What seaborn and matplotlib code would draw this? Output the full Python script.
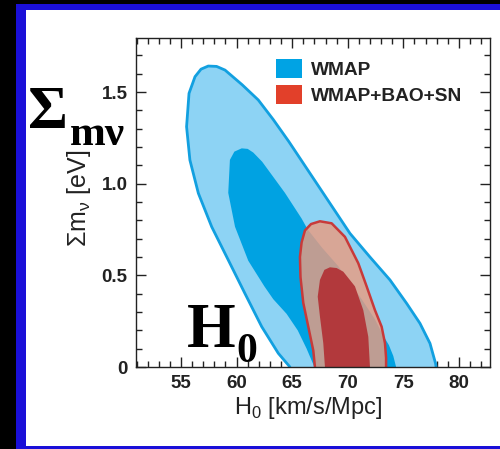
import matplotlib
matplotlib.use("Agg")
import matplotlib.pyplot as plt
from matplotlib.patches import Rectangle, Patch
from matplotlib.ticker import MultipleLocator
import seaborn as sns

# 68% / 95% confidence contours in the (H0, sum of neutrino masses) plane
wmap95_h0 = [64.8, 63.75, 62.26, 60.76, 59.25, 57.76, 56.56, 55.8, 55.5, 55.72, 56.26,
             56.8, 57.45, 58.2, 58.96, 60.5, 61.95, 63.3, 64.7, 66.6, 68.4, 70.2, 72.0,
             73.8, 75.3, 76.5, 77.4, 77.9, 77.95]
wmap95_mnu = [0.0, 0.075, 0.22, 0.40, 0.584, 0.765, 0.948, 1.129, 1.311, 1.493, 1.584,
              1.625, 1.642, 1.64, 1.62, 1.54, 1.457, 1.35, 1.23, 1.057, 0.893, 0.729,
              0.60, 0.475, 0.347, 0.238, 0.129, 0.02, 0.0]

wmap68_h0 = [67.0, 66.3, 65.5, 64.5, 63.3, 62.5, 61.05, 59.86, 59.25, 59.4, 59.8, 60.46,
             61.0, 61.5, 62.3, 64.35, 65.85, 66.4, 67.7, 69.15, 70.3, 71.25, 72.45,
             73.2, 73.7, 74.1, 74.35]
wmap68_mnu = [0.0, 0.10, 0.20, 0.29, 0.37, 0.44, 0.58, 0.765, 0.95, 1.13, 1.175, 1.193,
              1.19, 1.17, 1.12, 0.95, 0.81, 0.75, 0.65, 0.55, 0.45, 0.37, 0.26,
              0.17, 0.12, 0.06, 0.0]

comb95_h0 = [67.05, 66.9, 66.45, 66.0, 65.75, 65.7, 65.85, 66.15, 66.7, 67.5, 68.55,
             69.75, 70.95, 71.7, 72.45, 73.05, 73.35, 73.45, 73.45]
comb95_mnu = [0.0, 0.09, 0.22, 0.35, 0.49, 0.60, 0.68, 0.745, 0.78, 0.795, 0.784,
              0.71, 0.566, 0.44, 0.31, 0.22, 0.13, 0.05, 0.0]

comb68_h0 = [67.95, 67.8, 67.5, 67.3, 67.5, 67.9, 68.4, 69.0, 69.6, 70.65, 71.4,
             71.85, 72.0]
comb68_mnu = [0.0, 0.13, 0.275, 0.384, 0.475, 0.53, 0.544, 0.54, 0.52, 0.44, 0.31,
              0.165, 0.0]

legend_labels = ["WMAP", "WMAP+BAO+SN"]
xticks = [55, 60, 65, 70, 75, 80]
yticks = [0, 0.5, 1.0, 1.5]
ytick_labels = ["0", "0.5", "1.0", "1.5"]

sns.set_theme(style="ticks")
plt.rcParams["font.family"] = ["Liberation Sans", "DejaVu Sans"]
plt.rcParams["mathtext.fontset"] = "custom"
plt.rcParams["mathtext.rm"] = "Liberation Sans"

W, H = 500, 449
fig = plt.figure(figsize=(W / 100, H / 100), dpi=100, facecolor="black")

def fx(px):
    return px / W

def fy(py):
    return 1 - py / H

# slide frame
fig.patches.append(Rectangle((fx(16), 0), 1 - fx(16), fy(4), transform=fig.transFigure,
                             facecolor="#1A0FD8", edgecolor="none", zorder=-10))
fig.patches.append(Rectangle((fx(26), fy(446)), 1 - fx(26), fy(10) - fy(446),
                             transform=fig.transFigure, facecolor="white",
                             edgecolor="none", zorder=-9))

ax = fig.add_axes([fx(136), fy(367), fx(490) - fx(136), fy(38) - fy(367)])
ax.set_zorder(1)
ax.set_facecolor("white")

light_blue = "#8DD3F4"
mid_blue = "#00A2E2"
edge_blue = "#12A0E0"
salmon = "#E99C82"
dark_red = "#B2393C"
edge_red = "#C83A3A"

ax.fill(wmap95_h0, wmap95_mnu, color=light_blue, lw=0, zorder=1)
sns.lineplot(x=wmap95_h0, y=wmap95_mnu, sort=False, estimator=None, ax=ax,
             color=edge_blue, lw=2.0, zorder=2)
ax.fill(wmap68_h0, wmap68_mnu, color=mid_blue, lw=0, zorder=3)
ax.fill(comb95_h0, comb95_mnu, color=salmon, alpha=0.82, lw=0, zorder=4)
sns.lineplot(x=comb95_h0, y=comb95_mnu, sort=False, estimator=None, ax=ax,
             color=edge_red, lw=1.8, zorder=5)
ax.fill(comb68_h0, comb68_mnu, color=dark_red, lw=0, zorder=6)

ax.set_xlim(50.95, 82.8)
ax.set_ylim(0, 1.795)
ax.set_xticks(xticks)
ax.set_yticks(yticks)
ax.set_yticklabels(ytick_labels)
ax.xaxis.set_minor_locator(MultipleLocator(1))
ax.yaxis.set_minor_locator(MultipleLocator(0.1))
ax.tick_params(which="both", direction="in", top=True, right=True, color="#222222",
               width=1.0)
ax.tick_params(which="major", length=7, labelsize=13.5, pad=6)
ax.tick_params(which="minor", length=4)
for lab in ax.get_xticklabels() + ax.get_yticklabels():
    lab.set_fontweight("bold")
    lab.set_color("#222222")
for s in ax.spines.values():
    s.set_color("#222222")
    s.set_linewidth(1.0)
    s.set_zorder(10)

ax.set_xlabel(r"H$_{0}$ [km/s/Mpc]", fontsize=17, color="#222222")
ax.xaxis.set_label_coords(0.486, -0.085)
ax.set_ylabel(r"Σm$_{\mathregular{ν}}$ [eV]", fontsize=18, color="#222222")
ax.yaxis.set_label_coords(-0.122, 0.514)

handles = [Patch(facecolor="#00A3E4", edgecolor="none"),
           Patch(facecolor="#E2402A", edgecolor="none")]
leg = ax.legend(handles, legend_labels, loc="upper left",
                bbox_to_anchor=(0.3955, 0.935), frameon=False, borderpad=0,
                borderaxespad=0, handlelength=1.35, handleheight=1.15,
                handletextpad=0.5, labelspacing=0.28,
                prop={"family": "Liberation Sans", "weight": "bold", "size": 13.8})
for t in leg.get_texts():
    t.set_color("#222222")

# large serif annotations
fig.text(fx(28), fy(128), "Σ", family="Liberation Serif", weight="bold", fontsize=44,
         ha="left", va="baseline", color="black", zorder=20)
fig.text(fx(70), fy(145), "mν", family="Liberation Serif", weight="bold", fontsize=31,
         ha="left", va="baseline", color="black", zorder=20)
fig.text(fx(187), fy(347), "H", family="Liberation Serif", weight="bold", fontsize=45,
         ha="left", va="baseline", color="black", zorder=20)
fig.text(fx(236), fy(362), "0", family="Liberation Serif", weight="bold", fontsize=30,
         ha="left", va="baseline", color="black", zorder=20)

fig.savefig("out.png", dpi=100, facecolor=fig.get_facecolor())
